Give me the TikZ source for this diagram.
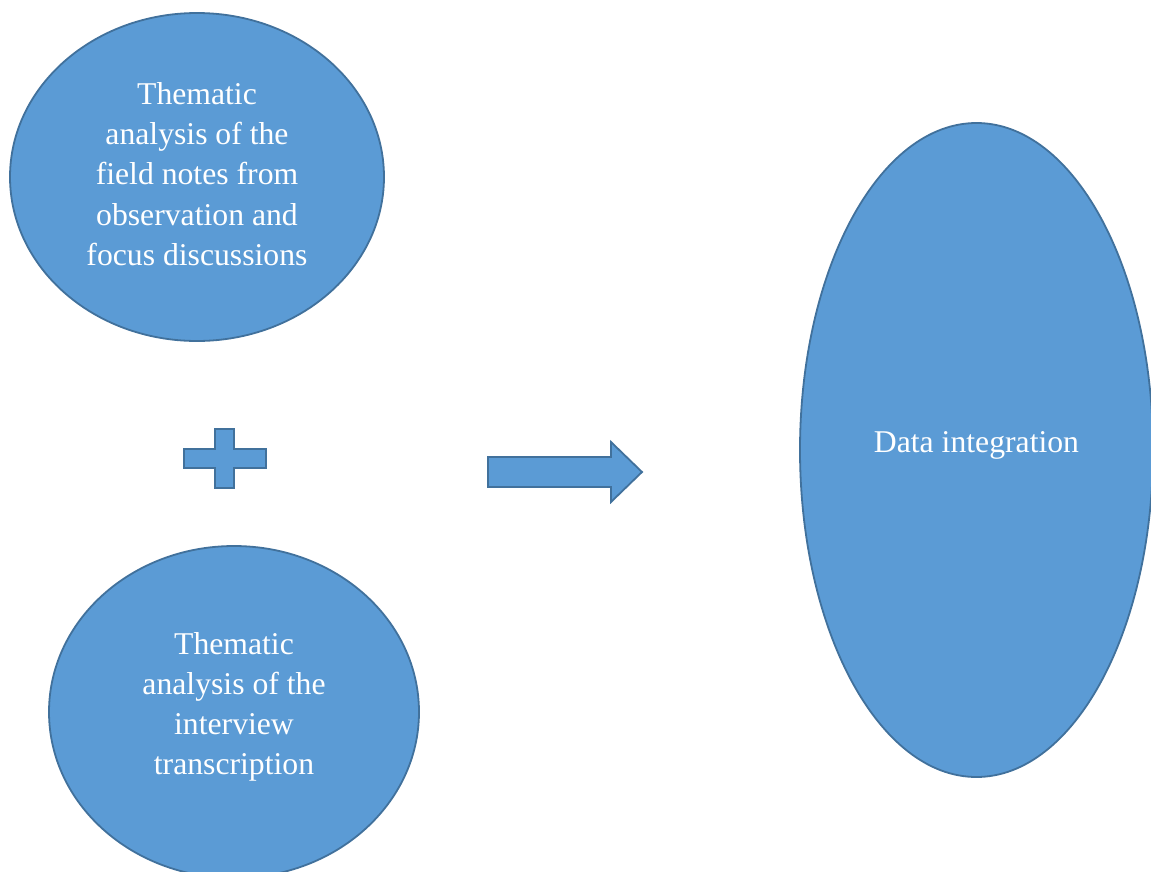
\documentclass[tikz,border=0pt]{standalone}
\usepackage{fontspec}
\setmainfont{Liberation Serif}
\usetikzlibrary{shapes.geometric}
\definecolor{blobfill}{HTML}{5B9BD5}
\definecolor{blobline}{HTML}{41719C}
\begin{document}
\begin{tikzpicture}[x=1pt,y=-1pt,
  blob/.style={ellipse, draw=blobline, fill=blobfill, line width=1.8pt, inner sep=0pt},
  shapeline/.style={draw=blobline, fill=blobfill, line width=1.8pt, line join=miter},
  blobtext/.style={text=white, align=center, inner sep=0pt,
    font=\fontsize{31.7}{40.2}\selectfont}]
\useasboundingbox (0,0) rectangle (1151,871);
\fill[white] (0,0) rectangle (1151,871);
\node[blob, minimum width=374pt, minimum height=328pt] (e1) at (197,177) {};
\node[blob, minimum width=370pt, minimum height=332pt] (e2) at (234,712) {};
\node[blob, minimum width=353pt, minimum height=654pt] (e3) at (976.5,450) {};
\node[blobtext] (t1) at ([yshift=3pt]e1.center) {Thematic\\analysis of the\\field notes from\\observation and\\focus discussions};
\node[blobtext] (t2) at ([yshift=5pt]e2.center) {Thematic\\analysis of the\\interview\\transcription};
\node[blobtext] (t3) at ([yshift=5pt]e3.center) {Data integration};
% plus sign
\draw[shapeline] (215,429) -- (234,429) -- (234,449) -- (266,449) -- (266,468) -- (234,468) -- (234,488) -- (215,488) -- (215,468) -- (184,468) -- (184,449) -- (215,449) -- cycle;
% block arrow
\draw[shapeline] (488,457) -- (611,457) -- (611,442) -- (642,472) -- (611,502) -- (611,487) -- (488,487) -- cycle;
\end{tikzpicture}
\end{document}
